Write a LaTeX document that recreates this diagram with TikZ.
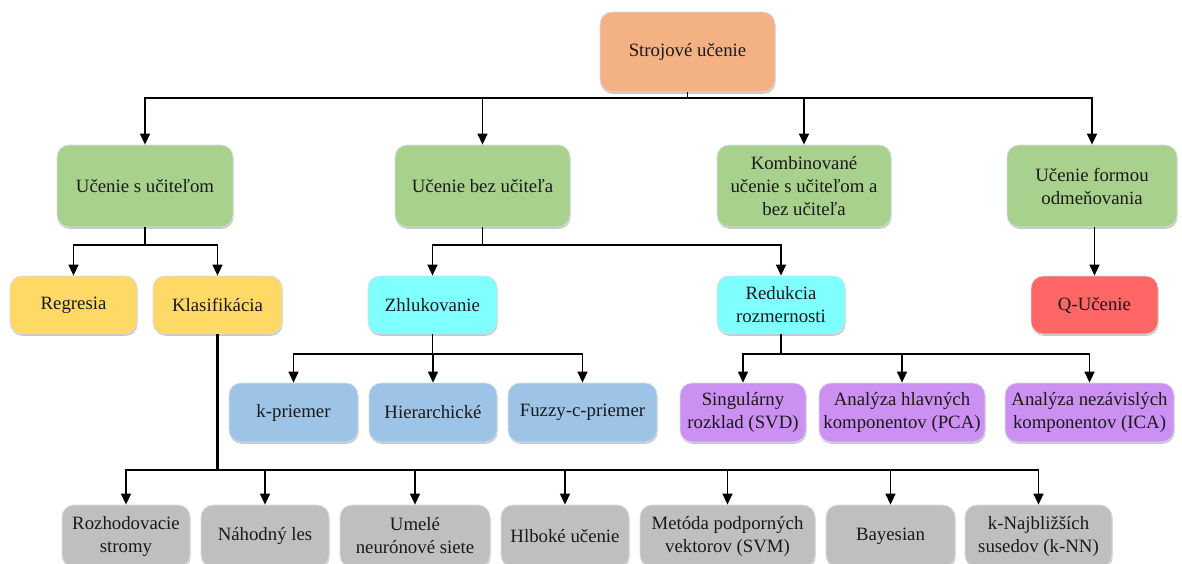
\documentclass[tikz,border=0pt]{standalone}
\usepackage{fontspec}
\setmainfont{Liberation Serif}
\usetikzlibrary{arrows.meta,shadows}

\definecolor{cRoot}{HTML}{F4B183}
\definecolor{cGreen}{HTML}{A9D18E}
\definecolor{cYellow}{HTML}{FFD966}
\definecolor{cCyan}{HTML}{80FFFF}
\definecolor{cRed}{HTML}{FF6666}
\definecolor{cBlue}{HTML}{9DC3E6}
\definecolor{cPurple}{HTML}{CC8FF2}
\definecolor{cGray}{HTML}{BFBFBF}
\definecolor{cEdge}{HTML}{D5DEE8}
\definecolor{cText}{HTML}{1A1A1A}

\tikzset{
  box/.style={rounded corners=12pt, align=center, inner sep=2pt,
    draw=cEdge, line width=0.8pt, text=cText,
    font=\fontsize{18.8}{23}\selectfont,
    drop shadow={shadow xshift=0.6pt, shadow yshift=-1.8pt, opacity=0.22, fill=black}},
  sz/.style 2 args={minimum width=#1pt, minimum height=#2pt},
  arr/.style={line width=1.5pt, -{Triangle[length=11pt,width=10pt]}},
  stem/.style={line width=2.6pt}
}

\begin{document}
\begin{tikzpicture}[x=1pt,y=-1pt]
\useasboundingbox (0,0) rectangle (1182,563);

% root
\node[box, sz={175}{80}, fill=cRoot] (root) at (687.5,52) {Strojové učenie};

% learning paradigms
\node[box, sz={176}{82}, fill=cGreen] (sup) at (145,186) {Učenie s učiteľom};
\node[box, sz={175}{82}, fill=cGreen] (unsup) at (482.5,186) {Učenie bez učiteľa};
\node[box, sz={174}{82}, fill=cGreen] (semi) at (804,186) {Kombinované\\učenie s učiteľom a\\bez učiteľa};
\node[box, sz={170}{82}, fill=cGreen] (rein) at (1092,186) {Učenie formou\\odmeňovania};

% tasks
\node[box, sz={127}{58}, fill=cYellow] (reg) at (73.5,305) {Regresia};
\node[box, sz={129}{58}, fill=cYellow] (cls) at (217.5,305) {Klasifikácia};
\node[box, sz={129}{58}, fill=cCyan] (clu) at (432.5,305) {Zhlukovanie};
\node[box, sz={128}{58}, fill=cCyan] (dim) at (781,305) {Redukcia\\rozmernosti};
\node[box, sz={127}{58}, fill=cRed] (ql) at (1094.5,305) {Q-Učenie};

% clustering methods
\node[box, sz={129}{59}, fill=cBlue] (km) at (293.5,412.5) {k-priemer};
\node[box, sz={128}{59}, fill=cBlue] (hc) at (433,412.5) {Hierarchické};
\node[box, sz={149}{59}, fill=cBlue] (fcm) at (582.5,412.5) {Fuzzy-c-priemer};

% dimensionality reduction methods
\node[box, sz={126}{59}, fill=cPurple] (svd) at (743,412.5) {Singulárny\\rozklad (SVD)};
\node[box, sz={166}{59}, fill=cPurple] (pca) at (902,412.5) {Analýza hlavných\\komponentov (PCA)};
\node[box, sz={169}{59}, fill=cPurple] (ica) at (1089.5,412.5) {Analýza nezávislých\\komponentov (ICA)};

% classification methods
\node[box, sz={128}{62}, fill=cGray] (dt) at (126,536) {Rozhodovacie\\stromy};
\node[box, sz={128}{62}, fill=cGray] (rf) at (265,536) {Náhodný les};
\node[box, sz={150}{62}, fill=cGray] (ann) at (415,536) {Umelé\\neurónové siete};
\node[box, sz={128}{62}, fill=cGray] (dl) at (565,536) {Hlboké učenie};
\node[box, sz={175}{62}, fill=cGray] (svm) at (727.5,536) {Metóda podporných\\vektorov (SVM)};
\node[box, sz={129}{62}, fill=cGray] (bay) at (890.5,536) {Bayesian};
\node[box, sz={147}{62}, fill=cGray] (knn) at (1038.5,536) {k-Najbližších\\susedov (k-NN)};

% bus levels
\coordinate (busRoot) at (0,98);
\coordinate (busSup) at (0,245);
\coordinate (busUns) at (0,245);
\coordinate (busClu) at (0,354);
\coordinate (busDim) at (0,354);
\coordinate (busCls) at (0,470);

% connectors
\foreach \t in {sup,unsup,semi,rein}
  \draw[arr] (root.south) |- (busRoot -| \t.north) -- (\t.north);
\foreach \t in {reg,cls}
  \draw[arr] (sup.south) |- (busSup -| \t.north) -- (\t.north);
\foreach \t in {clu,dim}
  \draw[arr] (unsup.south) |- (busUns -| \t.north) -- (\t.north);
\draw[arr] (rein.south -| ql.north) -- (ql.north);
\foreach \t in {km,hc,fcm}
  \draw[arr] (clu.south) |- (busClu -| \t.north) -- (\t.north);
\foreach \t in {svd,pca,ica}
  \draw[arr] (dim.south) |- (busDim -| \t.north) -- (\t.north);
\draw[stem] (cls.south) -- (busCls -| cls.south);
\foreach \t in {dt,rf,ann,dl,svm,bay,knn}
  \draw[arr] (cls.south) |- (busCls -| \t.north) -- (\t.north);
\end{tikzpicture}
\end{document}
